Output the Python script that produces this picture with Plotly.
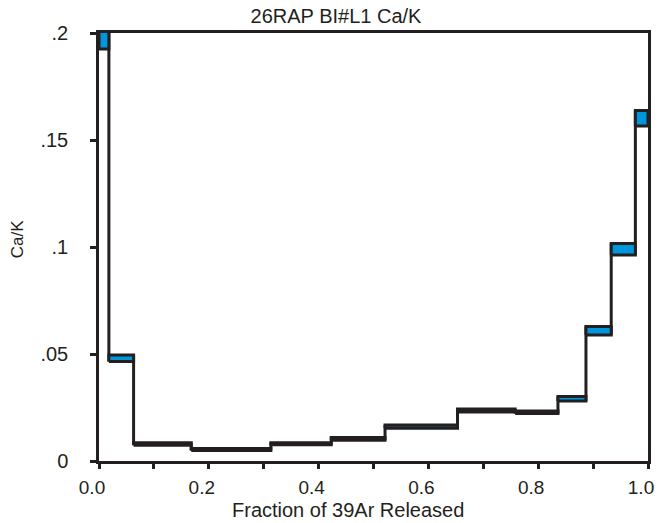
import plotly.graph_objects as go

# Cumulative fraction of 39Ar released at step boundaries
frac_edges = [0.0, 0.018, 0.063, 0.168, 0.313, 0.423, 0.521, 0.653,
              0.758, 0.836, 0.887, 0.933, 0.977, 1.0]
# Ca/K lower and upper bounds (value +/- error) for each step
cak_low = [0.1925, 0.0465, 0.0074, 0.0049, 0.0076, 0.0097, 0.0153,
           0.0229, 0.0222, 0.0280, 0.0589, 0.0963, 0.1565]
cak_high = [0.2010, 0.0495, 0.0085, 0.0058, 0.0085, 0.0110, 0.0168,
            0.0243, 0.0234, 0.0301, 0.0629, 0.1016, 0.1638]

x_tickvals = [0.0, 0.1, 0.2, 0.3, 0.4, 0.5, 0.6, 0.7, 0.8, 0.9, 1.0]
x_ticktext = ["0.0", "", "0.2", "", "0.4", "", "0.6", "", "0.8", "", "1.0"]
y_tickvals = [0, 0.05, 0.1, 0.15, 0.2]
y_ticktext = ["0", ".05", ".1", ".15", ".2"]

title_text = "26RAP BI#L1 Ca/K"
x_title = "Fraction of 39Ar Released"
y_title = "Ca/K"

BLUE = "#0096DB"
INK = "#231F20"
FONT = "Liberation Sans, Arial, sans-serif"

FIG_W, FIG_H = 666, 523

fig = go.Figure()

# connectors between adjacent steps
cx, cy = [], []
for i in range(len(cak_low) - 1):
    xb = frac_edges[i + 1]
    lo = min(cak_low[i], cak_low[i + 1])
    hi = max(cak_high[i], cak_high[i + 1])
    cx += [xb, xb, None]
    cy += [lo, hi, None]
fig.add_trace(go.Scatter(x=cx, y=cy, mode="lines",
                         line=dict(color=INK, width=3),
                         hoverinfo="skip", showlegend=False))

# step boxes
for i in range(len(cak_low)):
    x0, x1 = frac_edges[i], frac_edges[i + 1]
    y0, y1 = cak_low[i], cak_high[i]
    fig.add_trace(go.Scatter(
        x=[x0, x1, x1, x0, x0], y=[y0, y0, y1, y1, y0],
        mode="lines", fill="toself", fillcolor=BLUE,
        line=dict(color=INK, width=3), showlegend=False))

fig.update_layout(
    width=FIG_W, height=FIG_H,
    margin=dict(l=99, r=13, t=33, b=62),
    paper_bgcolor="white", plot_bgcolor="white",
    font=dict(family=FONT, color=INK, size=20),
    title=dict(text=title_text, xref="container",
               x=336 / FIG_W, xanchor="center",
               yref="container", y=1 - 16 / FIG_H,
               yanchor="middle",
               font=dict(size=20, color=INK, family=FONT)),
    showlegend=False,
)
fig.update_xaxes(range=[0, 1], tickvals=x_tickvals, ticktext=x_ticktext,
                 showgrid=False, zeroline=False, showline=True, mirror=True,
                 linecolor=INK, linewidth=2.5, ticks="outside", ticklen=5,
                 tickwidth=2.5, tickcolor=INK, ticklabelshift=-7,
                 ticklabelstandoff=2,
                 tickfont=dict(size=19, color=INK, family=FONT))
fig.update_yaxes(range=[0, 0.2], tickvals=y_tickvals, ticktext=y_ticktext,
                 showgrid=False, zeroline=False, showline=True, mirror=True,
                 linecolor=INK, linewidth=2.5, ticks="outside", ticklen=6,
                 tickwidth=2.5, tickcolor=INK, ticklabelstandoff=18,
                 tickfont=dict(size=20, color=INK, family=FONT))

fig.add_annotation(text=x_title, xref="paper", yref="paper",
                   x=(350 - 99) / 554, y=(461 - 509.5) / 428,
                   xanchor="center", yanchor="middle", showarrow=False,
                   font=dict(size=20, color=INK, family=FONT))
fig.add_annotation(text=y_title, xref="paper", yref="paper",
                   x=(16.5 - 99) / 554, y=(461 - 239) / 428, textangle=-90,
                   xanchor="center", yanchor="middle", showarrow=False,
                   font=dict(size=17, color=INK, family=FONT))

# remove the default 8px body margin so the figure fills the window exactly
fig.write_html("out.html", config={"displayModeBar": False},
               post_script="document.body.style.margin='0px';")
